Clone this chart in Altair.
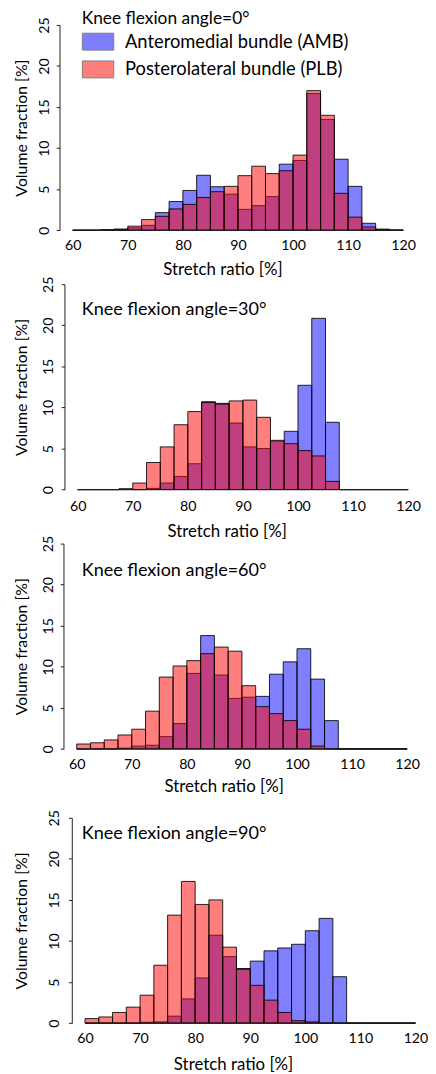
import altair as alt
import pandas as pd

# ---------------- data ----------------
bin_start = [60.0, 62.5, 65.0, 67.5, 70.0, 72.5, 75.0, 77.5, 80.0, 82.5, 85.0, 87.5,
             90.0, 92.5, 95.0, 97.5, 100.0, 102.5, 105.0, 107.5, 110.0, 112.5, 115.0, 117.5]
bin_end = [62.5, 65.0, 67.5, 70.0, 72.5, 75.0, 77.5, 80.0, 82.5, 85.0, 87.5, 90.0,
           92.5, 95.0, 97.5, 100.0, 102.5, 105.0, 107.5, 110.0, 112.5, 115.0, 117.5, 120.0]

series_names = ["Anteromedial bundle (AMB)", "Posterolateral bundle (PLB)"]
series_colors = ["#0000ff", "#ff0000"]

angle_labels = ["Knee flexion angle=0°", "Knee flexion angle=30°",
                "Knee flexion angle=60°", "Knee flexion angle=90°"]

amb_0 = [0, 0, 0.05, 0.1, 0.3, 0.6, 2.15, 3.5, 4.85, 6.7, 5.3, 4.4,
         2.55, 3.0, 4.1, 8.05, 8.5, 16.65, 13.5, 8.65, 5.35, 0.85, 0.12, 0]
plb_0 = [0, 0, 0.05, 0.15, 0.5, 1.3, 1.7, 2.6, 3.15, 4.0, 4.7, 5.35,
         6.65, 7.8, 6.9, 7.25, 9.15, 17.0, 14.0, 4.5, 1.6, 0.4, 0.12, 0.04]

amb_30 = [0, 0, 0, 0.05, 0, 0.15, 0.8, 1.6, 3.15, 10.7, 10.5, 8.1,
          5.2, 5.0, 5.9, 7.1, 12.7, 20.85, 8.2, 0, 0, 0, 0, 0]
plb_30 = [0, 0, 0, 0.1, 0.8, 3.3, 5.2, 7.9, 9.5, 10.6, 10.4, 10.8,
          10.9, 8.8, 6.0, 5.6, 4.75, 4.1, 1.0, 0, 0, 0, 0, 0]

amb_60 = [0, 0, 0, 0.1, 0.35, 0.45, 1.5, 3.1, 9.2, 13.8, 9.0, 6.15,
          6.3, 6.4, 9.1, 10.6, 12.2, 8.5, 3.45, 0, 0, 0, 0, 0]
plb_60 = [0.6, 0.75, 1.1, 1.7, 2.4, 4.6, 8.75, 10.1, 10.75, 11.6, 12.4, 11.9,
          7.7, 5.15, 4.3, 3.45, 2.4, 0.35, 0, 0, 0, 0, 0, 0]

amb_90 = [0, 0, 0, 0, 0.1, 0.15, 0.85, 2.95, 5.5, 10.7, 8.1, 6.65,
          7.55, 8.8, 9.15, 9.6, 11.25, 12.75, 5.65, 0, 0, 0, 0, 0]
plb_90 = [0.55, 0.75, 1.3, 1.95, 3.4, 7.05, 13.15, 17.25, 14.45, 15.0, 9.25, 6.55,
          4.6, 2.8, 1.3, 0.3, 0.15, 0, 0, 0, 0, 0, 0, 0]

panel_amb = [amb_0, amb_30, amb_60, amb_90]
panel_plb = [plb_0, plb_30, plb_60, plb_90]

x_ticks = [60, 70, 80, 90, 100, 110, 120]
y_ticks = [0, 5, 10, 15, 20, 25]
x_axis_span = [60, 120]
y_domain = [0, 25]

# ---------------- layout / style (not data) ----------------
FONT = "Lato"
PX_PER_UNIT = 5.56
PLOT_H = 207.3
layout = [
    dict(shift=0.0, top=0.0, ylab_pad=7.7, xlab_pad=8.5, title_dy=19.8, title_size=17.5, xt_x=164.4, xt_y=39.6),
    dict(shift=5.0, top=0.0, ylab_pad=8.7, xlab_pad=10.3, title_dy=53.0, title_size=18.2, xt_x=168.7, xt_y=42.3),
    dict(shift=4.0, top=0.0, ylab_pad=7.7, xlab_pad=8.4, title_dy=54.5, title_size=18.2, xt_x=165.7, xt_y=37.6),
    dict(shift=12.4, top=15.0, ylab_pad=10.1, xlab_pad=8.8, title_dy=50.0, title_size=18.2, xt_x=175.2, xt_y=41.5),
]
Y_TITLE_CENTER_FROM_P1_AXIS = 38.6
TICK_FS = 14.3
AXIS_TITLE_FS_Y = 16
AXIS_TITLE_FS_X = 17
LEGEND_FS = 18.5

color_scale = alt.Scale(domain=series_names, range=series_colors)


def make_panel(i):
    cfg = layout[i]
    s = cfg["shift"]
    top = cfg["top"]
    x_min = 57.6 - s / PX_PER_UNIT
    width = (120 - 57.6) * PX_PER_UNIT + s
    height = PLOT_H + top

    rows = []
    for name, vals in zip(series_names, [panel_amb[i], panel_plb[i]]):
        for a, b, v in zip(bin_start, bin_end, vals):
            rows.append({"start": a, "end": b, "value": v, "base": 0, "bundle": name})
    df = pd.DataFrame(rows)
    axis_df = pd.DataFrame({"start": [x_axis_span[0]], "end": [x_axis_span[1]], "value": [0]})

    x_axis = alt.Axis(values=x_ticks, domain=False, ticks=False, tickSize=0, grid=False,
                      labelFontSize=TICK_FS, labelFont=FONT, labelBaseline="top",
                      labelPadding=cfg["xlab_pad"], labelFlush=False, labelOverlap=False,
                      title="Stretch ratio [%]", titleFontSize=AXIS_TITLE_FS_X, titleFont=FONT,
                      titleFontWeight="normal", titleX=cfg["xt_x"], titleY=cfg["xt_y"],
                      titleAlign="center", titleBaseline="middle", format="d")
    y_axis = alt.Axis(values=y_ticks, grid=False, offset=-s, tickSize=3.3,
                      labelAngle=270, labelAlign="center", labelBaseline="alphabetic",
                      labelFontSize=TICK_FS, labelFont=FONT, labelPadding=cfg["ylab_pad"],
                      labelFlush=False, labelOverlap=False,
                      title="Volume fraction [%]", titleFontSize=AXIS_TITLE_FS_Y, titleFont=FONT,
                      titleFontWeight="normal", titleAngle=270, titleAlign="center",
                      titleBaseline="middle", titleY=top + PLOT_H / 2,
                      titleX=-(Y_TITLE_CENTER_FROM_P1_AXIS + s))

    x_enc = alt.X("start:Q", scale=alt.Scale(domain=[x_min, 120], nice=False, zero=False), axis=x_axis)
    y_enc = alt.Y("value:Q", scale=alt.Scale(domain=y_domain, nice=False, range=[height, top]),
                  axis=y_axis)

    if i == 0:
        legend = alt.Legend(orient="none", legendX=22.4, legendY=0.4, title=None,
                            symbolType="M-1,-0.54H1V0.54H-1Z", symbolSize=1000,
                            symbolStrokeColor="black", symbolStrokeWidth=1, symbolOpacity=0.5,
                            labelFontSize=LEGEND_FS, labelFont=FONT, labelColor="black",
                            labelOffset=10.7, labelLimit=0, rowPadding=-7.0, padding=0)
    else:
        legend = None
    fill_enc = alt.Fill("bundle:N", scale=color_scale, legend=legend)

    base = alt.Chart(df)
    amb = base.transform_filter(alt.datum.bundle == series_names[0]).mark_bar(
        fillOpacity=0.5, stroke="black", strokeWidth=1, strokeOpacity=0.85
    ).encode(x=x_enc, x2="end:Q", y=y_enc, y2="base:Q", fill=fill_enc)
    plb = base.transform_filter(alt.datum.bundle == series_names[1]).mark_bar(
        fillOpacity=0.5, stroke="black", strokeWidth=1, strokeOpacity=0.85
    ).encode(x=x_enc, x2="end:Q", y=y_enc, y2="base:Q", fill=fill_enc)
    xline = alt.Chart(axis_df).mark_rule(color="#222", strokeWidth=1).encode(
        x=x_enc, x2="end:Q", y=y_enc)

    return alt.layer(amb, plb, xline).properties(
        width=width, height=height,
        title=alt.TitleParams(angle_labels[i], anchor="start", frame="group", offset=0,
                              dx=22.4, dy=cfg["title_dy"], baseline="middle",
                              fontSize=cfg["title_size"], font=FONT, fontWeight="normal",
                              color="black"))


panels = [make_panel(i) for i in range(4)]

chart = alt.vconcat(*panels, spacing=53.8, bounds="flush").resolve_scale(
    color="independent").resolve_legend(color="independent").properties(
    padding={"left": 5, "top": -3, "right": 0, "bottom": 0}
).configure_view(stroke=None).configure_axis(
    labelColor="black", titleColor="black", domainColor="#222", tickColor="#222"
)

chart.save("out.html", embed_options={"renderer": "svg", "actions": False})
